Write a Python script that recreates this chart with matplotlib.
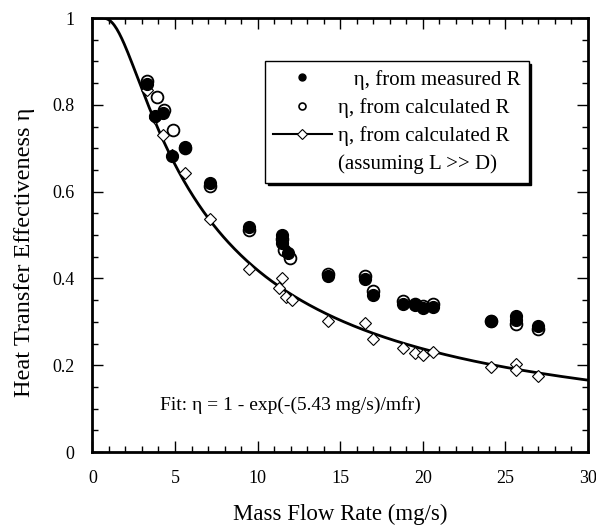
import numpy as np
import matplotlib
matplotlib.use("Agg")
import matplotlib.pyplot as plt
from matplotlib.lines import Line2D

plt.rcParams['font.family'] = ['Liberation Serif', 'DejaVu Serif']

# measured R
meas_x = [3.28, 3.79, 4.3, 4.82, 5.6, 7.12, 9.48, 11.47, 11.47, 11.85, 14.27, 16.5, 17.0,
          18.8, 19.5, 20.0, 20.6, 24.15, 25.67, 25.67, 27.0]
meas_y = [0.848, 0.774, 0.781, 0.682, 0.703, 0.62, 0.518, 0.50, 0.482, 0.459, 0.406, 0.399, 0.362,
          0.341, 0.339, 0.332, 0.334, 0.302, 0.313, 0.305, 0.29]
# calculated R
calc_x = [3.3, 3.89, 4.35, 4.86, 5.6, 7.12, 9.48, 11.47, 11.6, 11.95, 14.27, 16.5, 17.0,
          18.8, 19.5, 20.0, 20.6, 24.15, 25.67, 27.0]
calc_y = [0.856, 0.819, 0.787, 0.742, 0.70, 0.612, 0.512, 0.49, 0.466, 0.447, 0.41, 0.405, 0.37,
          0.348, 0.34, 0.336, 0.34, 0.302, 0.295, 0.283]
# calculated R, assuming L >> D
ld_x = [3.3, 3.8, 4.3, 4.82, 5.6, 7.12, 9.48, 11.47, 11.3, 11.7, 12.1, 14.27, 16.5, 17.0,
        18.8, 19.5, 20.0, 20.6, 24.15, 25.67, 25.67, 27.0]
ld_y = [0.835, 0.77, 0.73, 0.685, 0.643, 0.537, 0.422, 0.40, 0.378, 0.357, 0.35, 0.302, 0.297, 0.26,
        0.24, 0.228, 0.224, 0.23, 0.196, 0.203, 0.189, 0.175]
fit_const = 5.43  # mg/s

fig = plt.figure(figsize=(5.96, 5.27), dpi=100)
ax = fig.add_axes([0.155, 0.1423, 0.8316, 0.8235])

mfr = np.linspace(0.05, 30, 400)
ax.plot(mfr, 1 - np.exp(-fit_const / mfr), color="black", lw=2, zorder=2)
ax.plot(ld_x, ld_y, linestyle="none", marker="D", ms=6, mfc="white", mec="black", mew=0.8, zorder=3)
ax.plot(meas_x, meas_y, linestyle="none", marker="o", ms=8.5, mfc="black", mec="black", zorder=4)
ax.plot(calc_x, calc_y, linestyle="none", marker="o", ms=8.5, mfc="none", mec="black", mew=1.3, zorder=5)

ax.set_xlim(0, 30)
ax.set_ylim(0, 1)
ax.set_xticks(range(0, 31, 5))
ax.set_xticks(range(0, 31, 1), minor=True)
ax.set_yticks([0, 0.2, 0.4, 0.6, 0.8, 1])
ax.set_yticklabels(["0", "0.2", "0.4", "0.6", "0.8", "1"])
ax.set_yticks(np.arange(0, 1.001, 0.05), minor=True)
ax.tick_params(which="both", direction="in", top=True, right=True, labelsize=13)
ax.tick_params(which="major", length=8, width=1, pad=13)
ax.tick_params(which="minor", length=4, width=1)
for s in ax.spines.values():
    s.set_linewidth(2)

ax.set_xlabel("Mass Flow Rate (mg/s)", fontsize=16.5, labelpad=12)
ax.set_ylabel("Heat Transfer Effectiveness η", fontsize=17.5)
ax.yaxis.set_label_coords(-0.116, 0.46)

ax.text(12, 0.108, "Fit: η = 1 - exp(-(5.43 mg/s)/mfr)", fontsize=14, ha="center", va="center")

handles = [
    Line2D([], [], linestyle="none", marker="o", ms=5, mfc="black", mec="black"),
    Line2D([], [], linestyle="none", marker="o", ms=5, mfc="white", mec="black", mew=1.2),
    Line2D([], [], color="black", lw=1.5, marker="D", ms=5, mfc="white", mec="black", mew=0.8),
    Line2D([], [], linestyle="none"),
]
labels = ["   η, from measured R", "η, from calculated R", "η, from calculated R", "(assuming L >> D)"]
leg = ax.legend(handles, labels, loc="upper left", bbox_to_anchor=(0.348, 0.9), fontsize=15,
                frameon=True, fancybox=False, shadow={"color": "black", "alpha": 1}, edgecolor="black",
                handlelength=2.8, handletextpad=0.3, labelspacing=0.4, borderpad=0.4,
                borderaxespad=0)
leg.get_frame().set_linewidth(1)

fig.savefig("out.png", dpi=100)
